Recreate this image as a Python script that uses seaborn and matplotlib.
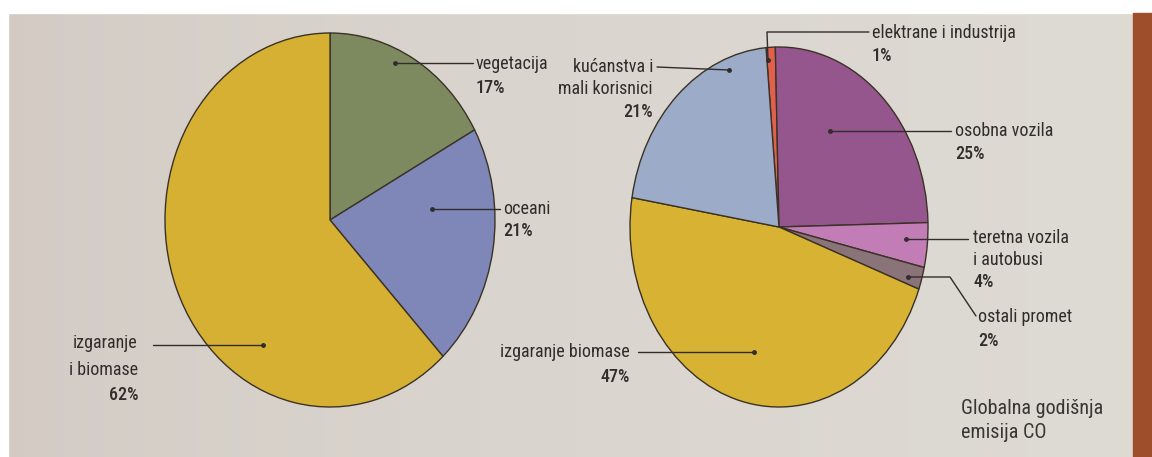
import matplotlib
matplotlib.use('Agg')
import numpy as np
import matplotlib.pyplot as plt
from matplotlib.patches import Rectangle
from matplotlib.lines import Line2D
from matplotlib.colors import to_rgb
import seaborn as sns

# ---------------- data ----------------
left_labels = ['vegetacija', 'oceani', 'izgaranje\ni biomase']
left_values = [17, 21, 62]
left_colors = ['#7d8a60', '#7f87b9', '#d6b032']

right_labels = ['elektrane i industrija', 'osobna vozila', 'teretna vozila\ni autobusi',
                'ostali promet', 'izgaranje biomase', 'kućanstva i\nmali korisnici']
right_values = [1, 25, 4, 2, 47, 21]
right_colors = ['#e0604c', '#94568c', '#c27db6', '#8a7379', '#d8b232', '#9babc8']

title_lines = ['Globalna godišnja', 'emisija CO']

# ---------------- style ----------------
sns.set_theme(style='white')
LABEL_FONT = ['Roboto Condensed', 'Barlow Condensed', 'Asap Condensed', 'DejaVu Sans']
plt.rcParams['font.family'] = LABEL_FONT

W, H = 1152, 457
fig = plt.figure(figsize=(W / 100, H / 100), dpi=100)
fig.patch.set_facecolor('#dad4cd')
TEXT = '#322d2d'


def fx(x):
    return x / W


def fy(y):
    return 1 - y / H


# page background: subtle photographic gradient
bg = fig.add_axes([0, 0, 1, 1], zorder=-10)
c0, c1 = np.array(to_rgb('#d1c9c2')), np.array(to_rgb('#dedad4'))
t = np.linspace(0, 1, 256)[None, :, None]
grad = c0 + (c1 - c0) * np.sqrt(t)
bg.imshow(grad, aspect='auto', extent=(0, 1, 0, 1))
bg.axis('off')

# page decorations (photo edges)
fig.add_artist(Rectangle((0, fy(13)), 1, 13 / H, transform=fig.transFigure,
                         color='white', zorder=0))
fig.add_artist(Rectangle((0, 0), 8 / W, 1, transform=fig.transFigure,
                         color='white', zorder=0))
fig.add_artist(Rectangle((fx(1133), 0), 19 / W, fy(13), transform=fig.transFigure,
                         color='#9e4e2a', zorder=0))


def draw_pie(values, colors, cx, cy, rx, ry, start):
    ax = fig.add_axes([fx(cx - rx), fy(cy + ry), 2 * rx / W, 2 * ry / H])
    wedges, _ = ax.pie(values, colors=colors, startangle=start, counterclock=False,
                       wedgeprops=dict(edgecolor='#3a3226', linewidth=1.0))
    for w in wedges:
        w.set_clip_on(False)
    ax.set_aspect('auto')
    ax.set_xlim(-1, 1)
    ax.set_ylim(-1, 1)
    ax.axis('off')
    return ax


draw_pie(left_values, left_colors, 330, 220, 165, 187, 90)
draw_pie(right_values, right_colors, 779, 227, 149, 180, 95)

# ---------------- annotation layout (pixels) ----------------
left_layout = [
    dict(pts=[(395, 63), (473, 63)], x=476, ys=[64, 88], ha='left'),
    dict(pts=[(432, 209), (500, 209)], x=503, ys=[209, 231], ha='left'),
    dict(pts=[(263, 345), (153, 345)], x=138, ys=[343, 370, 395], ha='right'),
]
right_layout = [
    dict(pts=[(768, 60), (767, 32), (869, 32)], x=872, ys=[33, 56], ha='left'),
    dict(pts=[(830, 131), (951, 131)], x=955, ys=[131, 154], ha='left'),
    dict(pts=[(906, 239), (968, 239)], x=973, ys=[238, 260, 282], ha='left'),
    dict(pts=[(908, 277), (950, 277), (976, 316)], x=978, ys=[317, 341], ha='left'),
    dict(pts=[(754, 352), (638, 352)], x=630, ys=[352, 377], ha='right'),
    dict(pts=[(729, 70), (657, 67)], x=653, ys=[67, 89, 112], ha='right'),
]


def annotate(labels, values, layout):
    for lab, val, lay in zip(labels, values, layout):
        xs = [fx(p[0]) for p in lay['pts']]
        ys = [fy(p[1]) for p in lay['pts']]
        fig.add_artist(Line2D(xs, ys, transform=fig.transFigure, color=TEXT, lw=1.0))
        fig.add_artist(Line2D([xs[0]], [ys[0]], transform=fig.transFigure, color=TEXT,
                              marker='o', markersize=2.5, lw=0))
        lines = lab.split('\n') + [f'{val}%']
        for i, (tx, y) in enumerate(zip(lines, lay['ys'])):
            fig.text(fx(lay['x']), fy(y), tx, ha=lay['ha'], va='center', fontsize=13,
                     family=LABEL_FONT, color=TEXT,
                     fontweight=500 if i == len(lines) - 1 else 'normal')


annotate(left_labels, left_values, left_layout)
annotate(right_labels, right_values, right_layout)

for tx, y in zip(title_lines, [409, 432]):
    fig.text(fx(961), fy(y), tx, ha='left', va='center', fontsize=14.5,
             family=LABEL_FONT, fontweight='normal', color='#3a3535')

fig.savefig('out.png', dpi=100, facecolor=fig.get_facecolor())
